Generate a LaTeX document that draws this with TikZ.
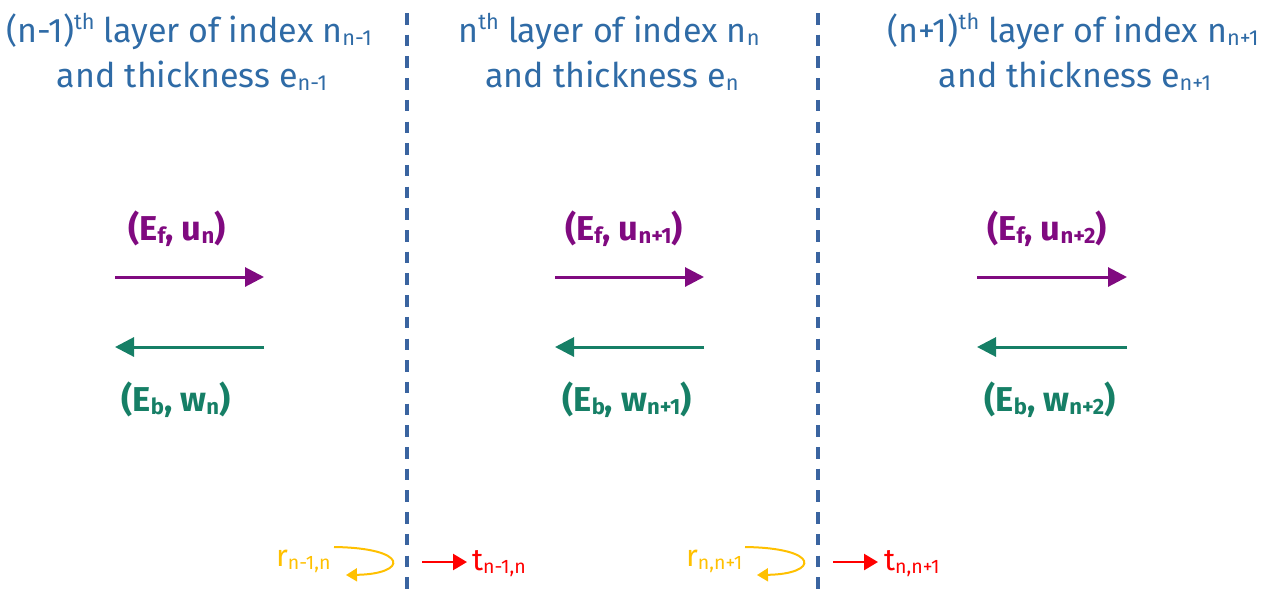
\documentclass[tikz,border=0pt]{standalone}
\usepackage{fontspec}
\setmainfont{Fira Sans}
\usetikzlibrary{arrows.meta}
\definecolor{titleblue}{HTML}{2F6BA6}
\definecolor{sepblue}{HTML}{3A64A0}
\definecolor{fwdpurple}{HTML}{800A80}
\definecolor{bwdgreen}{HTML}{167F66}
\definecolor{reflorange}{HTML}{FFC000}
\definecolor{transred}{HTML}{FF0000}
\newcommand\lo[1]{\raisebox{-0.1em}{\scalebox{0.64}{#1}}}
\newcommand\hi[1]{\raisebox{0.36em}{\scalebox{0.64}{#1}}}
\begin{document}
\begin{tikzpicture}[x=1pt,y=-1pt,
  title/.style={anchor=base,inner sep=0pt,text=titleblue,font=\fontsize{34}{40}\selectfont},
  wavef/.style={anchor=base,inner sep=0pt,text=fwdpurple,font=\fontsize{34.5}{40}\selectfont\bfseries},
  waveb/.style={anchor=base,inner sep=0pt,text=bwdgreen,font=\fontsize{34.5}{40}\selectfont\bfseries},
  rlab/.style={anchor=base west,inner sep=0pt,text=reflorange,font=\fontsize{30.5}{34}\selectfont},
  tlab/.style={anchor=base west,inner sep=0pt,text=transred,font=\fontsize{30.5}{34}\selectfont},
  sepline/.style={draw=sepblue,line width=3.5pt,dash pattern=on 11.5pt off 10.2pt},
  fwdarrow/.style={draw=fwdpurple,line width=3pt,-{Triangle[length=19pt,width=19pt]}},
  bwdarrow/.style={draw=bwdgreen,line width=3pt,-{Triangle[length=19pt,width=19pt]}},
  reflarrow/.style={draw=reflorange,line width=2pt,-{Triangle[length=11pt,width=13pt]}},
  transarrow/.style={draw=transred,line width=2.4pt,-{Triangle[length=14pt,width=16pt]}}
]
\useasboundingbox (0,0) rectangle (1276,590);

% separators
\coordinate (s1t) at (407,13); \coordinate (s1b) at (407,590);
\coordinate (s2t) at (818,13); \coordinate (s2b) at (818,590);
\draw[sepline] (s1t) -- (s1b);
\draw[sepline] (s2t) -- (s2b);

% titles
\node[title] (t1a) at (189,42) {(n-1)\hi{th} layer of index n\lo{n-1}};
\node[title] (t1b) at (192,87) {and thickness e\lo{n-1}};
\node[title] (t2a) at (609,42) {n\hi{th} layer of index n\lo{n}};
\node[title] (t2b) at (612,87) {and thickness e\lo{n}};
\node[title] (t3a) at (1073,42) {(n+1)\hi{th} layer of index n\lo{n+1}};
\node[title] (t3b) at (1075,87) {and thickness e\lo{n+1}};

% wave labels
\node[wavef] (f1) at (177,240) {(E\lo{f}, u\lo{n})};
\node[wavef] (f2) at (624,240) {(E\lo{f}, u\lo{n+1})};
\node[wavef] (f3) at (1047,240) {(E\lo{f}, u\lo{n+2})};
\node[waveb] (b1) at (176,411) {(E\lo{b}, w\lo{n})};
\node[waveb] (b2) at (627,411) {(E\lo{b}, w\lo{n+1})};
\node[waveb] (b3) at (1050,411) {(E\lo{b}, w\lo{n+2})};

% arrows
\coordinate (fa1) at (115,277); \coordinate (fb1) at (264,277);
\coordinate (fa2) at (555,277); \coordinate (fb2) at (704,277);
\coordinate (fa3) at (977,277); \coordinate (fb3) at (1127,277);
\draw[fwdarrow] (fa1) -- (fb1);
\draw[fwdarrow] (fa2) -- (fb2);
\draw[fwdarrow] (fa3) -- (fb3);
\coordinate (ba1) at (264,347); \coordinate (bb1) at (115,347);
\coordinate (ba2) at (704,347); \coordinate (bb2) at (555,347);
\coordinate (ba3) at (1127,347); \coordinate (bb3) at (977,347);
\draw[bwdarrow] (ba1) -- (bb1);
\draw[bwdarrow] (ba2) -- (bb2);
\draw[bwdarrow] (ba3) -- (bb3);

% reflection / transmission
\node[rlab] (r1) at (276,566) {r\lo{n-1,n}};
\node[rlab] (r2) at (686,566) {r\lo{n,n+1}};
\coordinate (ra1) at (334,547); \coordinate (rb1) at (346,575);
\coordinate (ra2) at (745,547); \coordinate (rb2) at (757,575);
\draw[reflarrow] (ra1) .. controls (410,548) and (408,574) .. (rb1);
\draw[reflarrow] (ra2) .. controls (821,548) and (819,574) .. (rb2);

\coordinate (ta1) at (422,562); \coordinate (tb1) at (467,562);
\coordinate (ta2) at (833,562); \coordinate (tb2) at (878,562);
\draw[transarrow] (ta1) -- (tb1);
\draw[transarrow] (ta2) -- (tb2);
\node[tlab] (tl1) at (472,570) {t\lo{n-1,n}};
\node[tlab] (tl2) at (884,570) {t\lo{n,n+1}};
\end{tikzpicture}
\end{document}
